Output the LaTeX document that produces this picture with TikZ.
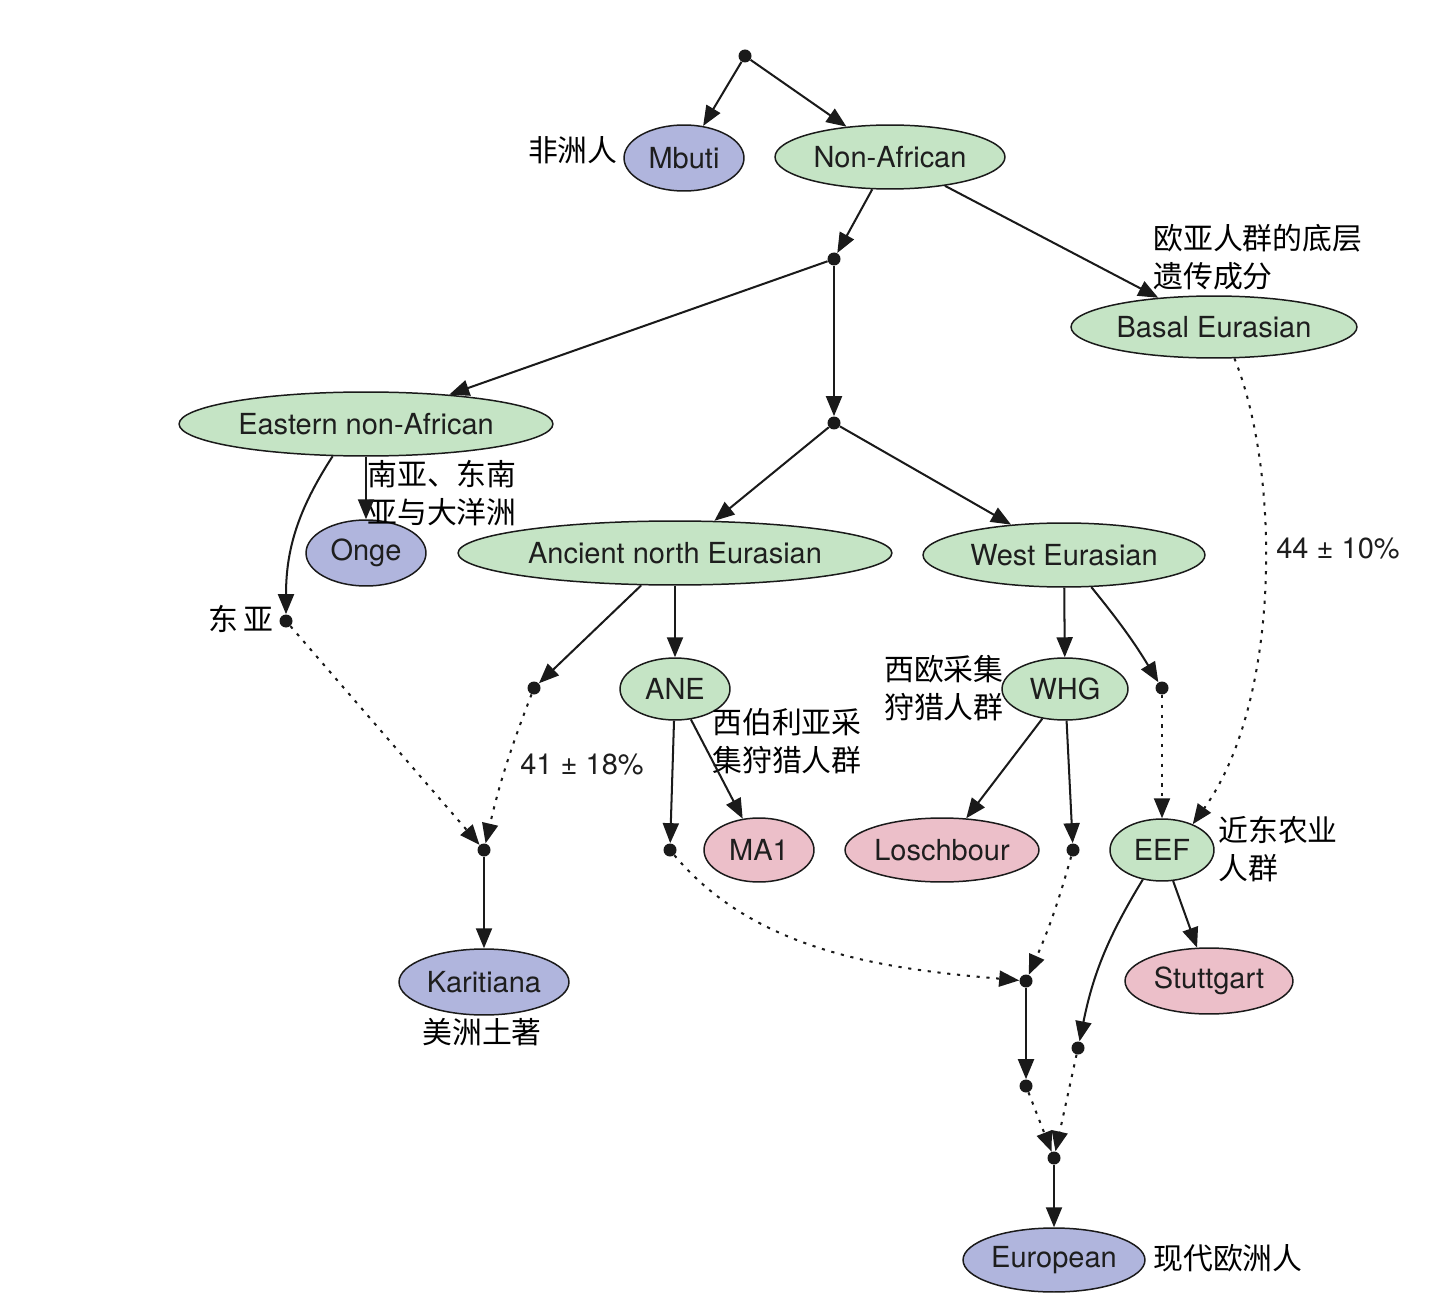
\documentclass[tikz,border=0pt]{standalone}
\usepackage{fontspec}
\setmainfont{TeX Gyre Heros}
\newfontfamily\cjk{Noto Sans CJK SC}
\usetikzlibrary{arrows.meta,shapes.geometric}
\definecolor{cblue}{RGB}{176,181,221}
\definecolor{cgreen}{RGB}{197,228,197}
\definecolor{cpink}{RGB}{236,191,201}
\definecolor{edgec}{RGB}{26,26,26}
\definecolor{txt}{RGB}{30,30,30}
\begin{document}
\begin{tikzpicture}[x=0.02cm,y=-0.02cm,
  pop/.style={ellipse, draw=edgec, line width=0.85pt, inner sep=0pt, text=txt,
    font=\fontsize{16.5}{19}\selectfont},
  e/.style 2 args={minimum width=#1*0.04cm, minimum height=#2*0.04cm},
  dot/.style={circle, fill=edgec, inner sep=0pt, minimum size=0.26cm},
  arr/.style={-{Triangle[length=0.40cm,width=0.32cm]}, line width=1.15pt, draw=edgec},
  darr/.style={arr, dash pattern=on 1.8pt off 3.8pt},
  zh/.style={font=\cjk\fontsize{17}{21.5}\selectfont, inner sep=0pt, text=black},
  lbl/.style={font=\fontsize{16.5}{19}\selectfont, inner sep=0pt, text=txt}]
\fill[white] (0,0) rectangle (1440,1314);
\useasboundingbox (0,0) rectangle (1440,1314);

% nodes
\node[dot] (r) at (745,56) {};
\node[pop, fill=cblue, e={60}{33}] (mbuti) at (684,158) {Mbuti};
\node[pop, fill=cgreen, e={115}{32}] (nonaf) at (890,157) {Non-African};
\node[dot] (d1) at (834,259) {};
\node[pop, fill=cgreen, e={143}{31}] (basal) at (1214,327) {Basal Eurasian};
\node[pop, fill=cgreen, e={187}{32}] (enaf) at (366,424) {Eastern non-African};
\node[dot] (d2) at (834,423) {};
\node[pop, fill=cblue, e={60}{33}] (onge) at (366,553) {Onge};
\node[pop, fill=cgreen, e={217}{32}] (anes) at (675,553) {Ancient north Eurasian};
\node[pop, fill=cgreen, e={141}{32}] (weur) at (1064,555) {West Eurasian};
\node[dot] (ea) at (286,621) {};
\node[dot] (d3) at (534,688) {};
\node[pop, fill=cgreen, e={55}{31}] (ane) at (675,689) {ANE};
\node[pop, fill=cgreen, e={63}{31}] (whg) at (1065,689) {WHG};
\node[dot] (d4) at (1162,688) {};
\node[dot] (d5) at (484,850) {};
\node[dot] (d6) at (670,850) {};
\node[pop, fill=cpink, e={55}{32}] (ma1) at (759,850) {MA1};
\node[pop, fill=cpink, e={97}{32}] (losch) at (942,850) {Loschbour};
\node[dot] (d7) at (1073,850) {};
\node[pop, fill=cgreen, e={52}{31}] (eef) at (1162,850) {EEF};
\node[pop, fill=cblue, e={85}{33}] (kar) at (484,982) {Karitiana};
\node[pop, fill=cpink, e={84}{33}] (stutt) at (1209,981) {Stuttgart};
\node[dot] (d8) at (1026,981) {};
\node[dot] (d9) at (1078,1048) {};
\node[dot] (d10) at (1026,1086) {};
\node[dot] (d11) at (1054,1158) {};
\node[pop, fill=cblue, e={91}{32}] (eur) at (1054,1260) {European};

% labels
\node[zh, anchor=east] (l1) at (618,150) {非洲人};
\node[zh, anchor=west, align=left] (l2) at (1153,257) {欧亚人群的底层\\遗传成分};
\node[zh, anchor=west, align=left] (l3) at (367,493) {南亚、东南\\亚与大洋洲};
\node[zh] (l4) at (241,619) {东\,亚};
\node[zh, anchor=west, align=left] (l5) at (712,741) {西伯利亚采\\集狩猎人群};
\node[zh, anchor=east, align=left] (l6) at (1004,688) {西欧采集\\狩猎人群};
\node[zh, anchor=west, align=left] (l7) at (1218,849) {近东农业\\人群};
\node[zh] (l8) at (482,1032) {美洲土著};
\node[zh, anchor=west] (l9) at (1153,1258) {现代欧洲人};
\node[lbl] (p1) at (582,765) {41 ± 18\%};
\node[lbl] (p2) at (1338,549) {44 ± 10\%};

% solid edges
\draw[arr] (r) -- (mbuti);
\draw[arr] (r) -- (nonaf);
\draw[arr] (nonaf) -- (d1);
\draw[arr] (nonaf) -- (basal);
\draw[arr] (d1) -- (enaf);
\draw[arr] (d1) -- (d2);
\draw[arr] (enaf) -- (onge);
\draw[arr] (enaf.224) to[out=237, in=90] (ea);
\draw[arr] (d2) -- (anes);
\draw[arr] (d2) -- (weur);
\draw[arr] (anes) -- (d3);
\draw[arr] (anes) -- (ane);
\draw[arr] (weur) -- (whg);
\draw[arr] (weur) to[bend left=4] (d4);
\draw[arr] (ane) -- (d6);
\draw[arr] (ane) -- (ma1);
\draw[arr] (whg) -- (losch);
\draw[arr] (whg) -- (d7);
\draw[arr] (eef) -- (stutt);
\draw[arr] (eef) to[bend right=10] (d9);
\draw[arr] (d5) -- (kar);
\draw[arr] (d8) -- (d10);
\draw[arr] (d11) -- (eur);

% dotted edges
\draw[darr] (d4) -- (eef);
\draw[darr] (basal.303) .. controls (1280,470) and (1282,700) .. (eef.40);
\draw[darr] (ea) -- (d5);
\draw[darr] (d3) to[bend right=4] (d5);
\draw[darr] (d6) to[out=-50, in=175, looseness=0.9] (d8);
\draw[darr] (d7) to[bend left=4] (d8);
\draw[darr] (d10) -- (d11);
\draw[darr] (d9) -- (d11);
\end{tikzpicture}
\end{document}
